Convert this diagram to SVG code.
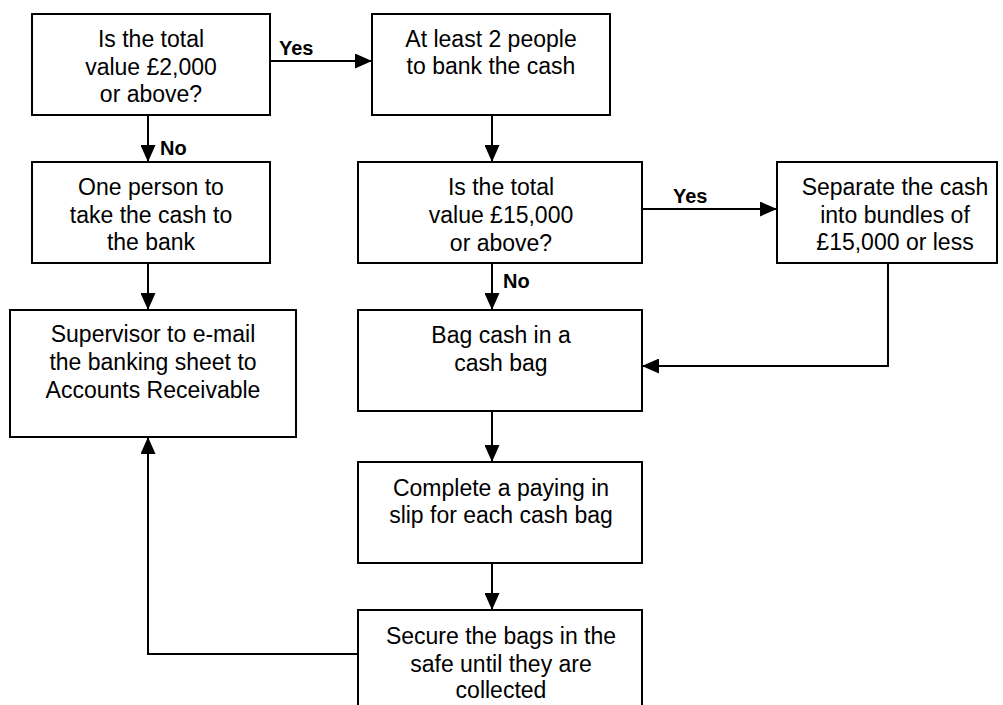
<svg xmlns="http://www.w3.org/2000/svg" width="1003" height="705" viewBox="0 0 1003 705">
  <style>
    .box { fill: #ffffff; stroke: #000000; stroke-width: 2; }
    .lbl { font-family: "Liberation Sans", Arial, sans-serif; font-size: 23px; fill: #000000; text-anchor: middle; }
    .tag { font-family: "Liberation Sans", Arial, sans-serif; font-size: 20px; font-weight: bold; fill: #000000; }
    .link { fill: none; stroke: #000000; stroke-width: 2; marker-end: url(#arrow); }
    .line { fill: none; stroke: #000000; stroke-width: 2; }
  </style>
  <defs>
    <marker id="arrow" viewBox="0 0 17 15" refX="17" refY="7.5" markerWidth="17" markerHeight="15" markerUnits="userSpaceOnUse" orient="auto">
      <path d="M0,0 L17,7.5 L0,15 Z" fill="#000000"/>
    </marker>
  </defs>
  <rect width="1003" height="705" fill="#ffffff"/>

  <!-- connectors -->
  <g id="connectors">
    <path class="link" d="M270,61 H372"/>
    <path class="link" d="M148,115 V162"/>
    <path class="link" d="M492,115 V162"/>
    <path class="link" d="M642,209 H777"/>
    <path class="link" d="M492,263 V310"/>
    <path class="link" d="M888,263 V366 H642"/>
    <path class="link" d="M148,263 V310"/>
    <path class="link" d="M492,411 V462"/>
    <path class="link" d="M492,563 V610"/>
    <path class="link" d="M358,654 H148 V437"/>
    <text class="tag" x="279" y="55">Yes</text>
    <text class="tag" x="160" y="155">No</text>
    <text class="tag" x="673" y="203">Yes</text>
    <text class="tag" x="503" y="288">No</text>
  </g>

  <!-- decision: over £2,000 -->
  <g id="check-2000">
    <rect class="box" x="32" y="14" width="238" height="101"/>
    <text class="lbl" x="151" y="47">Is the total</text>
    <text class="lbl" x="151" y="75">value £2,000</text>
    <text class="lbl" x="151" y="102">or above?</text>
  </g>

  <g id="two-people">
    <rect class="box" x="372" y="14" width="238" height="101"/>
    <text class="lbl" x="491" y="47">At least 2 people</text>
    <text class="lbl" x="491" y="74">to bank the cash</text>
  </g>

  <g id="one-person">
    <rect class="box" x="32" y="162" width="238" height="101"/>
    <text class="lbl" x="151" y="195">One person to</text>
    <text class="lbl" x="151" y="223">take the cash to</text>
    <text class="lbl" x="151" y="250">the bank</text>
  </g>

  <!-- decision: over £15,000 -->
  <g id="check-15000">
    <rect class="box" x="358" y="162" width="284" height="101"/>
    <text class="lbl" x="501" y="195">Is the total</text>
    <text class="lbl" x="501" y="223">value £15,000</text>
    <text class="lbl" x="501" y="251">or above?</text>
  </g>

  <g id="separate">
    <rect class="box" x="777" y="162" width="220" height="101"/>
    <text class="lbl" x="895" y="195">Separate the cash</text>
    <text class="lbl" x="895" y="223">into bundles of</text>
    <text class="lbl" x="895" y="250">£15,000 or less</text>
  </g>

  <g id="supervisor">
    <rect class="box" x="10" y="310" width="286" height="127"/>
    <text class="lbl" x="153" y="342">Supervisor to e-mail</text>
    <text class="lbl" x="153" y="370">the banking sheet to</text>
    <text class="lbl" x="153" y="398">Accounts Receivable</text>
  </g>

  <g id="bag-cash">
    <rect class="box" x="358" y="310" width="284" height="101"/>
    <text class="lbl" x="501" y="343">Bag cash in a</text>
    <text class="lbl" x="501" y="371">cash bag</text>
  </g>

  <g id="paying-in">
    <rect class="box" x="358" y="462" width="284" height="101"/>
    <text class="lbl" x="501" y="496">Complete a paying in</text>
    <text class="lbl" x="501" y="523">slip for each cash bag</text>
  </g>

  <g id="secure">
    <rect class="box" x="358" y="610" width="284" height="120"/>
    <text class="lbl" x="501" y="644">Secure the bags in the</text>
    <text class="lbl" x="501" y="672">safe until they are</text>
    <text class="lbl" x="501" y="698">collected</text>
  </g>
</svg>
